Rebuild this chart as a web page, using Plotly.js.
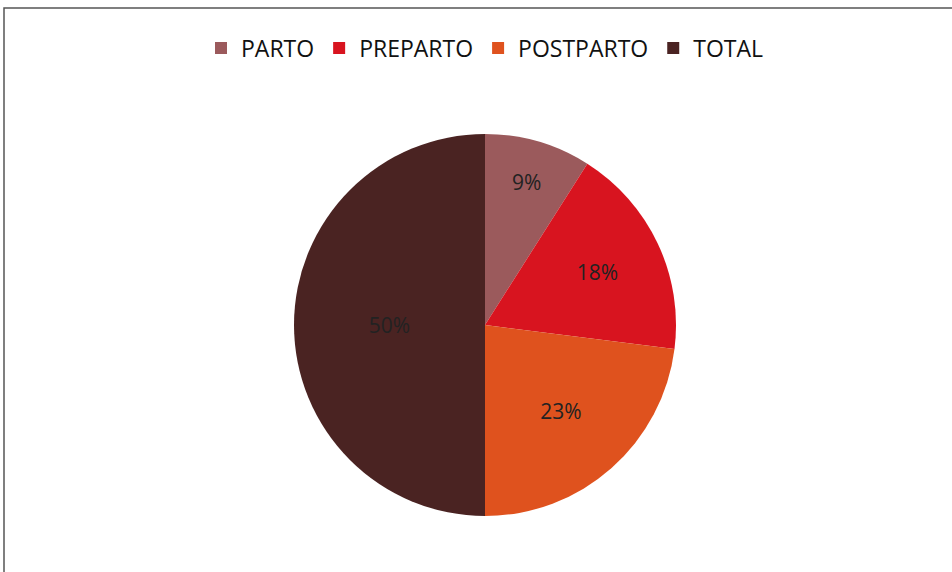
<!DOCTYPE html>
<html>
<head>
<meta charset="utf-8">
<script src="https://cdn.plot.ly/plotly-3.0.1.min.js"></script>
<style>
html,body{margin:0;padding:0;background:#fff;}
#chart{width:952px;height:572px;}
</style>
</head>
<body>
<div id="chart"></div>
<script>
const categories = ["PARTO", "PREPARTO", "POSTPARTO", "TOTAL"];
const values = [9, 18, 23, 50];
const colors = ["#9b5a5c", "#d8141f", "#df521e", "#4a2322"];

const trace = {
  type: "pie",
  labels: categories,
  values: values,
  sort: false,
  direction: "clockwise",
  rotation: 0,
  marker: {colors: colors, line: {width: 0}},
  textinfo: "percent",
  texttemplate: "%{percent:.0%}",
  textposition: "inside",
  insidetextorientation: "horizontal",
  textfont: {family: "Open Sans, Liberation Sans, sans-serif", size: 21, color: "#222"},
  hoverinfo: "label+percent"
};

const layout = {
  width: 952, height: 572,
  margin: {l: 18, r: 0, t: 134, b: 56},
  paper_bgcolor: "#ffffff",
  showlegend: true,
  legend: {
    orientation: "h",
    x: 0.5, xanchor: "center",
    y: 1.225, yanchor: "middle",
    font: {family: "Open Sans, Liberation Sans, sans-serif", size: 23, color: "#111"},
    traceorder: "normal"
  },
  shapes: [{
    type: "rect", xref: "paper", yref: "paper",
    x0: (4 - 18) / 934, x1: 1.2, y0: -0.3, y1: (516 - 8) / 382,
    line: {color: "#555", width: 1.5}
  }]
};

Plotly.newPlot("chart", [trace], layout, {displayModeBar: false, staticPlot: true});
</script>
</body>
</html>
